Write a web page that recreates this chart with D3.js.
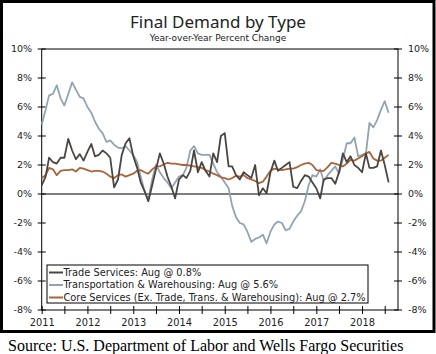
<!DOCTYPE html>
<html>
<head>
<meta charset="utf-8">
<script src="https://cdn.jsdelivr.net/npm/d3@7"></script>
<style>
  body { margin: 0; background: #fff; }
  svg { display: block; }
</style>
</head>
<body>
<div class="container"></div>
<script>
let width = 436
let height = 354

// monthly, Jan 2011 .. Aug 2018
let startYear = 2011
let tradeServices = [
  0.6, 1.2, 2.5, 2.2, 2.1, 2.5, 2.5, 3.8, 3.0, 2.4, 2.75, 2.3,
  2.9, 3.45, 2.6, 2.7, 3.0, 2.8, 2.5, 0.45, 1.0, 2.7, 3.5, 3.85,
  2.6, 1.8, 0.8, 0.2, -0.5, 0.6, 1.7, 2.8, 2.1, 1.2, 0.5, -0.3,
  1.0, 1.3, 1.1, 1.6, 3.0, 1.5, 2.2, 1.6, 1.2, 2.8, 2.2, 4.0,
  4.2, 1.9, 1.9, 1.3, 1.0, 1.5, 1.3, 1.1, 2.0, -0.1, 0.4, 0.05,
  1.5, 2.3, 1.6, 1.8, 2.0, 2.2, 0.5, 0.4, 0.9, 1.3, 1.2, 0.8,
  0.4, -0.3, 1.0, 1.1, 1.1, 0.7, 1.5, 2.8, 2.2, 2.6, 2.0, 1.8,
  1.5, 2.8, 1.8, 1.8, 1.9, 3.0, 2.0, 0.8
]
let transportation = [
  4.8, 5.8, 6.8, 6.9, 7.5, 6.6, 6.1, 6.9, 7.7, 7.2, 6.7, 6.6,
  6.0, 5.6, 5.0, 4.5, 4.2, 3.6, 3.7, 3.4, 3.2, 3.15, 3.3, 3.0,
  2.7, 2.2, 1.2, 0.2, -0.4, 1.0, 2.0, 1.5, 1.1, 0.8, 0.4, 0.8,
  1.2, 1.3, 1.8, 3.0, 3.3, 2.8, 2.7, 2.7, 2.7, 2.1, 1.5, 1.2,
  0.8, 0.4, -0.8, -1.6, -2.0, -2.1, -2.6, -3.3, -3.1, -3.0, -2.8, -3.4,
  -2.6, -2.1, -1.9, -2.0, -2.5, -2.4, -1.9, -1.5, -1.2, -0.5, 0.6, 1.3,
  1.2, 1.7, 0.9, 1.3, 1.6, 1.9, 1.4, 2.4, 3.5, 3.5, 3.9, 2.6,
  2.7, 2.8, 4.9, 4.6, 5.1, 5.8, 6.4, 5.6
]
let coreServices = [
  1.1, 1.3, 1.8, 1.7, 1.3, 1.6, 1.65, 1.65, 1.7, 1.55, 1.8, 1.75,
  1.65, 1.55, 1.6, 1.6, 1.55, 1.4, 1.2, 1.1, 1.3, 1.35, 1.2, 1.3,
  1.4, 1.6, 1.65, 1.5, 1.4, 1.7, 1.9, 1.9, 2.05, 2.15, 2.1, 2.1,
  2.05, 2.0, 2.0, 1.95, 1.9, 1.85, 1.8, 1.65, 1.55, 1.4, 1.3, 1.15,
  1.1, 1.0, 1.1, 1.25, 1.2, 1.3, 1.1, 1.0, 0.9, 0.75, 0.85, 1.2,
  1.6, 1.75, 1.7, 1.65, 1.7, 1.75, 1.75, 1.85, 2.0, 2.1, 2.15, 2.0,
  1.65, 1.6, 1.6, 1.85, 2.15, 2.1, 2.0, 1.9, 2.1, 2.35, 2.3, 2.45,
  2.6, 2.8, 2.9, 2.45, 2.3, 2.3, 2.5, 2.7
]
let seriesNames = [
  "Trade Services: Aug @ 0.8%",
  "Transportation & Warehousing: Aug @ 5.6%",
  "Core Services (Ex. Trade, Trans. & Warehousing): Aug @ 2.7%"
]
let seriesColors = ["#4a4541", "#91a4b0", "#a8653a"]
let yTicks = [-8, -6, -4, -2, 0, 2, 4, 6, 8, 10]

let series = [tradeServices, transportation, coreServices].map(function (vals) {
  return vals.map(function (v, i) { return { date: new Date(startYear, i, 1), value: v } })
})

let x = d3.scaleTime()
  .domain([new Date(2011, 0, 1), new Date(2018, 9, 15)])
  .range([41.7, 398])
let y = d3.scaleLinear().domain([-8, 10]).range([310, 49])

let svg = d3.select(".container")
  .append("svg")
  .attr("width", width)
  .attr("height", height)

// outer frame
svg.append("rect")
  .attr("x", 1.5).attr("y", 1.5)
  .attr("width", 432.5).attr("height", 330)
  .attr("fill", "none")
  .attr("stroke", "#000")
  .attr("stroke-width", 3)

svg.append("text")
  .attr("x", 218).attr("y", 28)
  .attr("text-anchor", "middle")
  .attr("font-family", "Noto Sans")
  .attr("font-size", "17px")
  .attr("fill", "#222")
  .text("Final Demand by Type")

svg.append("text")
  .attr("x", 218).attr("y", 41)
  .attr("text-anchor", "middle")
  .attr("font-family", "DejaVu Sans")
  .attr("font-size", "9px")
  .attr("fill", "#222")
  .text("Year-over-Year Percent Change")

// plot box
let x0 = x.range()[0], x1 = x.range()[1]
svg.append("rect")
  .attr("x", x0).attr("y", y(10))
  .attr("width", x1 - x0).attr("height", y(-8) - y(10))
  .attr("fill", "none")
  .attr("stroke", "#000")
  .attr("stroke-width", 1)

// y ticks both sides
yTicks.forEach(function (t) {
  [x0, x1].forEach(function (xx) {
    svg.append("line")
      .attr("x1", xx - 4).attr("x2", xx + 4)
      .attr("y1", y(t)).attr("y2", y(t))
      .attr("stroke", "#000")
  })
  svg.append("text")
    .attr("x", 32).attr("y", y(t)).attr("dy", "0.35em")
    .attr("text-anchor", "end")
    .attr("font-family", "DejaVu Sans").attr("font-size", "9.5px")
    .attr("fill", "#222")
    .text(t + "%")
  svg.append("text")
    .attr("x", 408).attr("y", y(t)).attr("dy", "0.35em")
    .attr("font-family", "DejaVu Sans").attr("font-size", "9.5px")
    .attr("fill", "#222")
    .text(t + "%")
})

// x axis
let xAxis = d3.axisBottom(x)
  .ticks(d3.timeMonth.every(6))
  .tickSize(4)
  .tickPadding(0)
  .tickFormat(function (d) { return d.getMonth() === 0 ? d3.timeFormat("%Y")(d) : "" })

let gx = svg.append("g")
  .attr("transform", "translate(0," + y(-8) + ")")
  .call(xAxis)
gx.select(".domain").remove()
gx.selectAll(".tick line").attr("y1", -4).attr("y2", 4).attr("stroke", "#000")
gx.selectAll(".tick text")
  .attr("y", 16).attr("dy", 0)
  .attr("font-family", "DejaVu Sans").attr("font-size", "9.8px")
  .attr("fill", "#222")

// zero line
svg.append("line")
  .attr("x1", x0).attr("x2", x1)
  .attr("y1", y(0)).attr("y2", y(0))
  .attr("stroke", "#000")
  .attr("stroke-width", 1.2)

let line = d3.line()
  .x(function (d) { return x(d.date) })
  .y(function (d) { return y(d.value) })

// draw core first so trade sits on top
let order = [1, 2, 0]
order.forEach(function (i) {
  svg.append("path")
    .datum(series[i])
    .attr("fill", "none")
    .attr("stroke", seriesColors[i])
    .attr("stroke-width", 1.8)
    .attr("stroke-linejoin", "round")
    .attr("d", line)
})

// legend
let legend = svg.append("g")
legend.append("rect")
  .attr("x", 47).attr("y", 265)
  .attr("width", 321).attr("height", 38)
  .attr("fill", "#fff")
  .attr("stroke", "#000")
  .attr("stroke-width", 1)

seriesNames.forEach(function (name, i) {
  let cy = 272.5 + i * 12.5
  legend.append("line")
    .attr("x1", 49).attr("x2", 63)
    .attr("y1", cy).attr("y2", cy)
    .attr("stroke", seriesColors[i])
    .attr("stroke-width", 2)
  legend.append("text")
    .attr("x", 63.5).attr("y", cy).attr("dy", "0.35em")
    .attr("font-family", "DejaVu Sans").attr("font-size", "9.8px")
    .attr("fill", "#222")
    .text(name)
})

svg.append("text")
  .attr("x", 8).attr("y", 351)
  .attr("font-family", "Liberation Serif")
  .attr("font-size", "16px")
  .attr("fill", "#000")
  .text("Source: U.S. Department of Labor and Wells Fargo Securities")
</script>
</body>
</html>
